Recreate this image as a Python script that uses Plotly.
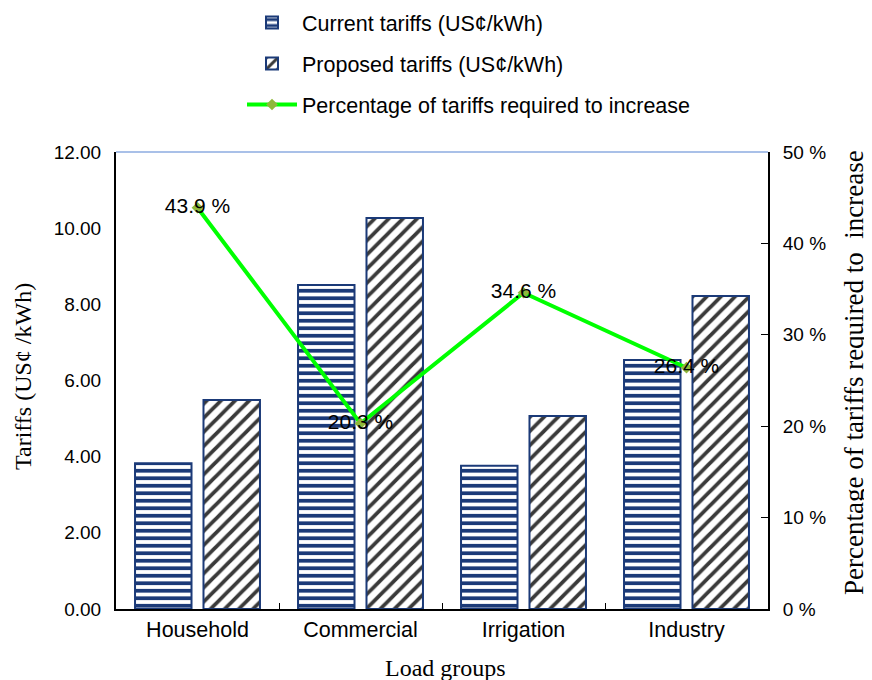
import plotly.graph_objects as go

categories = ["Household", "Commercial", "Irrigation", "Industry"]
current_tariffs = [3.83, 8.51, 3.76, 6.54]
proposed_tariffs = [5.49, 10.27, 5.07, 8.22]
pct_increase = [43.9, 20.3, 34.6, 26.4]
pct_labels = [f"{v} %" for v in pct_increase]

NAVY = "#1b3a78"
SANS = "Liberation Sans, Arial, sans-serif"
SERIF = "Liberation Serif, Times New Roman, serif"

fig = go.Figure()
fig.add_trace(go.Bar(
    x=categories, y=current_tariffs, name="Current tariffs (US¢/kWh)",
    legendgroup="a",
    marker=dict(color="white", line=dict(color=NAVY, width=2),
                pattern=dict(shape="-", fgcolor=NAVY, bgcolor="white", fgopacity=1,
                             size=7.5, solidity=0.5, fillmode="replace")),
))
fig.add_trace(go.Bar(
    x=categories, y=proposed_tariffs, name="Proposed tariffs (US¢/kWh)",
    legendgroup="b",
    marker=dict(color="white", line=dict(color=NAVY, width=2),
                pattern=dict(shape="/", fgcolor="#3a3a3a", bgcolor="white", fgopacity=1,
                             size=10, solidity=0.38, fillmode="replace")),
))
fig.add_trace(go.Scatter(
    x=categories, y=pct_increase, name="Percentage of tariffs required to increase",
    legendgroup="c", yaxis="y2", mode="lines+markers+text",
    line=dict(color="#00ff00", width=4),
    marker=dict(symbol="diamond", size=9, color="#8fb83a"),
    text=pct_labels, textposition="middle center",
    textfont=dict(family=SANS, size=21, color="black"),
    cliponaxis=False,
))

fig.update_layout(
    width=864, height=672,
    margin=dict(l=108, r=104, t=144, b=71, autoexpand=False),
    plot_bgcolor="white", paper_bgcolor="white",
    barmode="group", bargap=0.16, bargroupgap=0.175,
    font=dict(family=SANS, size=19, color="black"),
    showlegend=True,
    legend=dict(xref="paper", yref="paper", x=(234 - 108) / 652, y=1.328,
                xanchor="left", yanchor="top",
                font=dict(family=SANS, size=21.5), tracegroupgap=10,
                itemwidth=50, bgcolor="rgba(0,0,0,0)"),
    xaxis=dict(
        showline=True, linecolor="black", linewidth=2,
        ticks="inside", tickson="boundaries", ticklen=6, tickcolor="black",
        tickfont=dict(family=SANS, size=21.5),
        showgrid=False,
    ),
    yaxis=dict(
        range=[0, 12], dtick=2, tickformat=".2f",
        showline=True, linecolor="black", linewidth=2, ticks="",
        ticklabelstandoff=9,
        tickfont=dict(family=SANS, size=19),
        showgrid=False, zeroline=False,
    ),
    yaxis2=dict(
        range=[0, 50], dtick=10, ticksuffix=" %", overlaying="y", side="right",
        showline=True, linecolor="black", linewidth=2,
        ticks="inside", ticklen=7, tickcolor="black",
        ticklabelstandoff=9,
        tickfont=dict(family=SANS, size=19),
        showgrid=False, zeroline=False,
    ),
    shapes=[dict(type="line", xref="paper", yref="paper", x0=0, x1=1, y0=1, y1=1,
                 line=dict(color="#a9c0e8", width=2))],
    annotations=[
        dict(text="Tariffs (US¢ /kWh)", xref="paper", yref="paper",
             x=(15 - 108) / 652, y=(601 - 369) / 457, textangle=-90, showarrow=False,
             xanchor="center", yanchor="middle", font=dict(family=SERIF, size=24)),
        dict(text="Percentage of tariffs required to  increase", xref="paper", yref="paper",
             x=(846 - 108) / 652, y=(601 - 364) / 457, textangle=-90, showarrow=False,
             xanchor="center", yanchor="middle", font=dict(family=SERIF, size=27)),
        dict(text="Load groups", xref="paper", yref="paper",
             x=(437 - 108) / 652, y=(601 - 660) / 457, showarrow=False,
             xanchor="center", yanchor="middle", font=dict(family=SERIF, size=24)),
    ],
)

fig.write_html("out.html")
